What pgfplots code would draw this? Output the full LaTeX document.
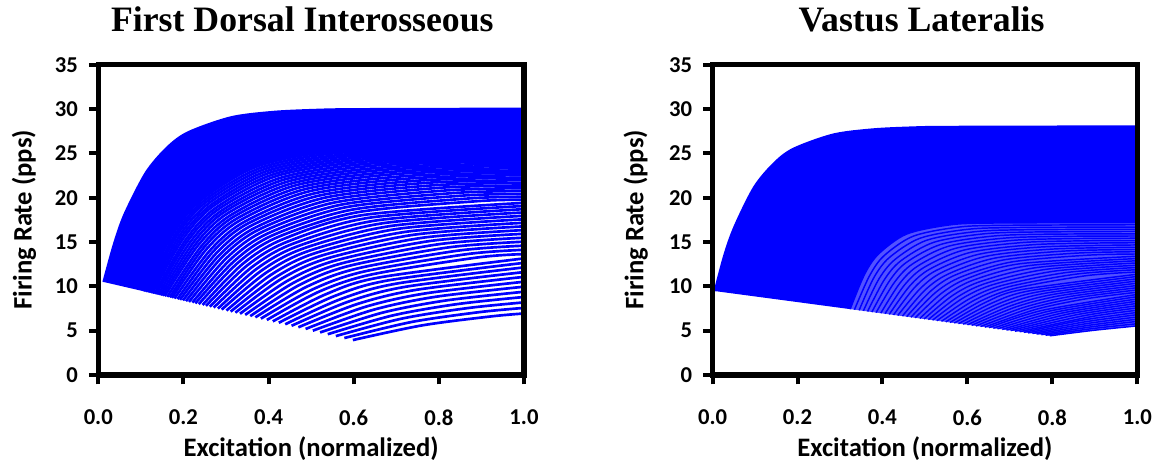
\documentclass[border=0pt]{standalone}
\usepackage{fontspec}
\setmainfont{Carlito}
\newfontfamily\titlefont{Liberation Serif}
\usepackage{pgfplots}
\pgfplotsset{compat=1.18}
\usepgfplotslibrary{fillbetween}

\pgfplotsset{
  muL/.style={blue, line width=2pt, smooth, no markers},
  muR/.style={blue, line width=1.1pt, smooth, no markers},
  env/.style={blue, line width=1.5pt, smooth, no markers},
  FR/.style={
    clip=true,
    scale only axis,
    xmin=0, xmax=1, ymin=0, ymax=35,
    xtick={0,0.2,0.4,0.6,0.8,1.0}, ytick={0,5,10,15,20,25,30,35},
    tick pos=left, tick align=outside,
    major tick length=7pt,
    tick style={black, line width=3pt},
    axis line style={black, line width=4pt, line cap=rect},
    after end axis/.code={\draw[black, line width=4pt, line join=miter] (rel axis cs:0,0) rectangle (rel axis cs:1,1);},
    /pgf/number format/assume math mode=true,
    ticklabel style={font=\bfseries\fontsize{17}{20}\selectfont},
    xticklabel style={/pgf/number format/fixed, /pgf/number format/fixed zerofill, /pgf/number format/precision=1, yshift=-15.6pt},
    yticklabel style={xshift=-4.8pt},
    label style={font=\bfseries\fontsize{20}{24}\selectfont},
    xlabel style={at={(axis description cs:0.5,-0.264)}, anchor=base},
    ylabel style={anchor=center},
    title style={font=\titlefont\bfseries\fontsize{26.8}{30}\selectfont, at={(axis description cs:0.5,1)}, anchor=base, yshift=19pt},
    xlabel={Excitation (normalized)}, ylabel={Firing Rate (pps)},
  }
}

\begin{document}
\begin{tikzpicture}

%================ LEFT: First Dorsal Interosseous ================
\begin{axis}[FR, at={(73.7pt,66pt)}, anchor=south west, width=319.3pt, height=232.7pt,
  title={First Dorsal Interosseous}, title style={xshift=-6.6pt},
  ylabel style={at={(axis description cs:-0.1745,0.5)}}]
% envelope: first recruited unit
\addplot[env, name path=LT] coordinates {(0.012,10.50) (0.037,14.82) (0.062,18.19) (0.112,22.86) (0.162,25.69) (0.212,27.41) (0.312,29.08) (0.412,29.69) (0.512,29.92) (0.612,30.00) (1,30.05)};
\addplot[muL, name path=LB] coordinates {(0.107,9.44) (0.175,15.90) (0.244,19.82) (0.380,23.64) (0.585,25.37) (1,25.84)};
\addplot[fill=blue, draw=none] fill between[of=LT and LB];
\addplot[muL] coordinates {(0.598,3.94) (0.761,5.60) (0.923,6.61) (1,6.94)};
\addplot[muL] coordinates {(0.578,4.17) (0.737,5.99) (0.895,7.09) (1,7.57)};
\addplot[muL] coordinates {(0.558,4.39) (0.713,6.36) (0.868,7.55) (1,8.19)};
\addplot[muL] coordinates {(0.539,4.60) (0.691,6.71) (0.842,7.99) (1,8.80)};
\addplot[muL] coordinates {(0.521,4.80) (0.669,7.05) (0.817,8.41) (1,9.39)};
\addplot[muL] coordinates {(0.504,5.00) (0.648,7.38) (0.792,8.82) (1,9.96)};
\addplot[muL] coordinates {(0.487,5.19) (0.628,7.70) (0.769,9.21) (1,10.52)};
\addplot[muL] coordinates {(0.470,5.38) (0.608,8.00) (0.746,9.60) (1,11.07)};
\addplot[muL] coordinates {(0.454,5.55) (0.589,8.30) (0.724,9.97) (1,11.61)};
\addplot[muL] coordinates {(0.439,5.72) (0.571,8.59) (0.703,10.33) (1,12.14)};
\addplot[muL] coordinates {(0.424,5.89) (0.553,8.87) (0.682,10.68) (1,12.65)};
\addplot[muL] coordinates {(0.410,6.05) (0.536,9.14) (0.662,11.02) (1,13.15)};
\addplot[muL] coordinates {(0.396,6.21) (0.519,9.41) (0.643,11.35) (0.890,13.25) (1,13.64)};
\addplot[muL] coordinates {(0.382,6.36) (0.504,9.67) (0.625,11.68) (0.867,13.64) (1,14.12)};
\addplot[muL] coordinates {(0.369,6.50) (0.488,9.92) (0.607,12.00) (0.844,14.02) (1,14.59)};
\addplot[muL] coordinates {(0.357,6.64) (0.473,10.17) (0.589,12.31) (0.822,14.39) (1,15.04)};
\addplot[muL] coordinates {(0.345,6.78) (0.459,10.41) (0.573,12.61) (0.801,14.76) (1,15.49)};
\addplot[muL] coordinates {(0.333,6.91) (0.445,10.64) (0.557,12.91) (0.780,15.12) (1,15.93)};
\addplot[muL] coordinates {(0.322,7.03) (0.431,10.87) (0.541,13.20) (0.760,15.47) (1,16.35)};
\addplot[muL] coordinates {(0.311,7.15) (0.419,11.10) (0.526,13.49) (0.741,15.82) (1,16.77)};
\addplot[muL] coordinates {(0.301,7.27) (0.406,11.31) (0.511,13.77) (0.722,16.15) (1,17.17)};
\addplot[muL] coordinates {(0.290,7.38) (0.394,11.53) (0.497,14.04) (0.704,16.49) (1,17.57)};
\addplot[muL] coordinates {(0.281,7.49) (0.382,11.73) (0.484,14.31) (0.687,16.81) (1,17.96)};
\addplot[muL] coordinates {(0.271,7.60) (0.371,11.94) (0.471,14.57) (0.670,17.13) (1,18.34)};
\addplot[muL] coordinates {(0.262,7.70) (0.360,12.14) (0.458,14.82) (0.654,17.44) (1,18.71)};
\addplot[muL] coordinates {(0.253,7.80) (0.349,12.33) (0.446,15.07) (0.638,17.75) (1,19.07)};
\addplot[muL] coordinates {(0.245,7.90) (0.339,12.52) (0.434,15.32) (0.623,18.05) (1,19.42)};
\addplot[muL] coordinates {(0.236,7.99) (0.329,12.70) (0.422,15.56) (0.608,18.35) (0.888,19.60) (1,19.77)};
\addplot[muL] coordinates {(0.228,8.08) (0.320,12.88) (0.411,15.79) (0.594,18.63) (0.869,19.91) (1,20.10)};
\addplot[muL] coordinates {(0.221,8.17) (0.311,13.06) (0.401,16.03) (0.581,18.92) (0.851,20.22) (1,20.43)};
\addplot[muL] coordinates {(0.213,8.25) (0.302,13.23) (0.390,16.25) (0.568,19.19) (0.833,20.52) (1,20.76)};
\addplot[muL] coordinates {(0.206,8.33) (0.293,13.40) (0.380,16.47) (0.555,19.46) (0.817,20.82) (1,21.07)};
\addplot[muL] coordinates {(0.199,8.41) (0.285,13.56) (0.371,16.68) (0.543,19.73) (0.800,21.11) (1,21.38)};
\addplot[muL] coordinates {(0.192,8.48) (0.277,13.72) (0.361,16.89) (0.531,19.99) (0.784,21.39) (1,21.68)};
\addplot[muL] coordinates {(0.186,8.56) (0.269,13.88) (0.352,17.10) (0.519,20.24) (0.769,21.67) (1,21.97)};
\addplot[muL] coordinates {(0.179,8.63) (0.262,14.03) (0.344,17.30) (0.508,20.49) (0.755,21.94) (1,22.26)};
\addplot[muL] coordinates {(0.173,8.70) (0.254,14.18) (0.335,17.50) (0.497,20.74) (0.740,22.20) (1,22.54)};
\addplot[muL] coordinates {(0.168,8.76) (0.247,14.32) (0.327,17.69) (0.487,20.98) (0.727,22.46) (1,22.81)};
\addplot[muL] coordinates {(0.162,8.82) (0.241,14.46) (0.319,17.88) (0.477,21.21) (0.713,22.72) (1,23.08)};
\addplot[muL] coordinates {(0.156,8.89) (0.234,14.60) (0.312,18.06) (0.467,21.44) (0.700,22.96) (1,23.34)};
\addplot[muL] coordinates {(0.151,8.94) (0.228,14.73) (0.304,18.24) (0.458,21.66) (0.688,23.21) (1,23.59)};
\addplot[muL] coordinates {(0.146,9.00) (0.222,14.86) (0.297,18.42) (0.449,21.88) (0.676,23.44) (1,23.84)};
\addplot[muL] coordinates {(0.141,9.06) (0.216,14.99) (0.291,18.59) (0.440,22.09) (0.664,23.68) (1,24.09)};
\addplot[muL] coordinates {(0.136,9.11) (0.210,15.11) (0.284,18.76) (0.432,22.30) (0.653,23.91) (1,24.32)};
\addplot[muL] coordinates {(0.132,9.16) (0.205,15.24) (0.278,18.92) (0.423,22.51) (0.642,24.13) (1,24.56)};
\addplot[muL] coordinates {(0.127,9.21) (0.199,15.35) (0.271,19.08) (0.416,22.71) (0.632,24.35) (1,24.78)};
\addplot[muL] coordinates {(0.123,9.26) (0.194,15.47) (0.266,19.23) (0.408,22.90) (0.622,24.56) (1,25.01)};
\addplot[muL] coordinates {(0.119,9.31) (0.189,15.58) (0.260,19.39) (0.401,23.09) (0.612,24.77) (1,25.22)};
\addplot[muL] coordinates {(0.115,9.35) (0.184,15.69) (0.254,19.53) (0.394,23.28) (0.603,24.97) (1,25.43)};
\addplot[muL] coordinates {(0.111,9.39) (0.180,15.80) (0.249,19.68) (0.387,23.46) (0.594,25.18) (1,25.64)};
\end{axis}

%================ RIGHT: Vastus Lateralis ================
\begin{axis}[FR, at={(534.4pt,66pt)}, anchor=south west, width=318.6pt, height=232.7pt,
  title={Vastus Lateralis}, title style={xshift=-2.5pt},
  ylabel style={at={(axis description cs:-0.181,0.5)}}]
\addplot[env, name path=RT] coordinates {(0.005,9.47) (0.028,13.58) (0.052,16.78) (0.098,21.21) (0.145,23.91) (0.191,25.54) (0.284,27.13) (0.377,27.71) (0.470,27.93) (0.563,28.00) (1,28.05)};
\addplot[muR, name path=RB] coordinates {(0.324,7.43) (0.357,11.27) (0.390,13.61) (0.456,15.88) (0.555,16.91) (0.654,17.14) (1,17.20)};
\addplot[draw=none, name path=RL] coordinates {(0.324,7.43) (0.794,4.42) (0.897,5.04) (1,5.54)};
\addplot[fill=blue, draw=none] fill between[of=RT and RB];
\addplot[fill=blue!68!white, draw=none] fill between[of=RB and RL];
\addplot[muR] coordinates {(0.794,4.42) (0.897,5.04) (1,5.54)};
\addplot[muR] coordinates {(0.784,4.49) (0.892,5.22) (1,5.79)};
\addplot[muR] coordinates {(0.774,4.55) (0.887,5.40) (1,6.05)};
\addplot[muR] coordinates {(0.763,4.62) (0.882,5.58) (1,6.30)};
\addplot[muR] coordinates {(0.753,4.68) (0.877,5.77) (1,6.55)};
\addplot[muR] coordinates {(0.743,4.75) (0.872,5.96) (1,6.81)};
\addplot[muR] coordinates {(0.733,4.81) (0.866,6.15) (1,7.06)};
\addplot[muR] coordinates {(0.723,4.88) (0.891,6.58) (1,7.31)};
\addplot[muR] coordinates {(0.712,4.94) (0.874,6.69) (1,7.57)};
\addplot[muR] coordinates {(0.702,5.01) (0.857,6.80) (1,7.82)};
\addplot[muR] coordinates {(0.692,5.07) (0.840,6.90) (1,8.08)};
\addplot[muR] coordinates {(0.682,5.14) (0.824,7.00) (1,8.33)};
\addplot[muR] coordinates {(0.671,5.21) (0.808,7.10) (1,8.58)};
\addplot[muR] coordinates {(0.661,5.27) (0.792,7.20) (1,8.84)};
\addplot[muR] coordinates {(0.651,5.34) (0.777,7.30) (1,9.09)};
\addplot[muR] coordinates {(0.641,5.40) (0.761,7.40) (0.881,8.61) (1,9.34)};
\addplot[muR] coordinates {(0.631,5.47) (0.746,7.50) (0.861,8.74) (1,9.60)};
\addplot[muR] coordinates {(0.620,5.53) (0.731,7.60) (0.842,8.86) (1,9.85)};
\addplot[muR] coordinates {(0.610,5.60) (0.716,7.71) (0.823,8.99) (1,10.10)};
\addplot[muR] coordinates {(0.600,5.66) (0.702,7.81) (0.804,9.11) (1,10.36)};
\addplot[muR] coordinates {(0.590,5.73) (0.687,7.92) (0.785,9.24) (1,10.61)};
\addplot[muR] coordinates {(0.579,5.79) (0.673,8.03) (0.767,9.38) (1,10.86)};
\addplot[muR] coordinates {(0.569,5.86) (0.659,8.14) (0.749,9.52) (1,11.12)};
\addplot[muR] coordinates {(0.559,5.92) (0.645,8.25) (0.731,9.66) (1,11.37)};
\addplot[muR] coordinates {(0.549,5.99) (0.632,8.36) (0.714,9.80) (0.879,11.20) (1,11.62)};
\addplot[muR] coordinates {(0.539,6.06) (0.618,8.48) (0.697,9.95) (0.856,11.38) (1,11.88)};
\addplot[muR] coordinates {(0.528,6.12) (0.605,8.60) (0.681,10.10) (0.833,11.56) (1,12.13)};
\addplot[muR] coordinates {(0.518,6.19) (0.591,8.72) (0.664,10.25) (0.810,11.75) (1,12.38)};
\addplot[muR] coordinates {(0.508,6.25) (0.578,8.84) (0.648,10.41) (0.788,11.94) (1,12.64)};
\addplot[muR] coordinates {(0.498,6.32) (0.565,8.97) (0.632,10.57) (0.766,12.14) (1,12.89)};
\addplot[muR] coordinates {(0.488,6.38) (0.552,9.09) (0.616,10.74) (0.745,12.34) (1,13.14)};
\addplot[muR] coordinates {(0.477,6.45) (0.539,9.22) (0.601,10.91) (0.724,12.55) (1,13.40)};
\addplot[muR] coordinates {(0.467,6.51) (0.526,9.35) (0.586,11.08) (0.704,12.75) (0.882,13.51) (1,13.65)};
\addplot[muR] coordinates {(0.457,6.58) (0.514,9.49) (0.570,11.25) (0.684,12.97) (0.854,13.74) (1,13.91)};
\addplot[muR] coordinates {(0.447,6.64) (0.501,9.62) (0.556,11.42) (0.664,13.18) (0.828,13.98) (1,14.16)};
\addplot[muR] coordinates {(0.436,6.71) (0.489,9.75) (0.541,11.60) (0.645,13.40) (0.802,14.21) (1,14.41)};
\addplot[muR] coordinates {(0.426,6.77) (0.476,9.89) (0.526,11.78) (0.627,13.62) (0.777,14.45) (1,14.67)};
\addplot[muR] coordinates {(0.416,6.84) (0.464,10.03) (0.512,11.96) (0.608,13.84) (0.752,14.69) (0.897,14.88) (1,14.92)};
\addplot[muR] coordinates {(0.406,6.91) (0.452,10.16) (0.498,12.14) (0.590,14.07) (0.729,14.94) (0.867,15.13) (1,15.17)};
\addplot[muR] coordinates {(0.396,6.97) (0.440,10.30) (0.484,12.32) (0.572,14.29) (0.705,15.18) (0.838,15.38) (1,15.43)};
\addplot[muR] coordinates {(0.385,7.04) (0.428,10.44) (0.470,12.50) (0.555,14.52) (0.682,15.42) (0.809,15.63) (1,15.68)};
\addplot[muR] coordinates {(0.375,7.10) (0.416,10.58) (0.456,12.69) (0.538,14.74) (0.660,15.67) (0.782,15.88) (1,15.93)};
\addplot[muR] coordinates {(0.365,7.17) (0.404,10.72) (0.443,12.87) (0.521,14.97) (0.638,15.92) (0.755,16.13) (1,16.19)};
\addplot[muR] coordinates {(0.355,7.23) (0.392,10.86) (0.430,13.05) (0.504,15.20) (0.617,16.16) (0.729,16.38) (1,16.44)};
\addplot[muR] coordinates {(0.345,7.30) (0.380,11.00) (0.416,13.24) (0.488,15.42) (0.596,16.41) (0.704,16.63) (1,16.69)};
\addplot[muR] coordinates {(0.334,7.36) (0.369,11.14) (0.403,13.42) (0.472,15.65) (0.575,16.66) (0.678,16.88) (1,16.95)};
\end{axis}

\pgfresetboundingbox
\path[use as bounding box] (0,0) rectangle (870pt,347.25pt);
\end{tikzpicture}
\end{document}
